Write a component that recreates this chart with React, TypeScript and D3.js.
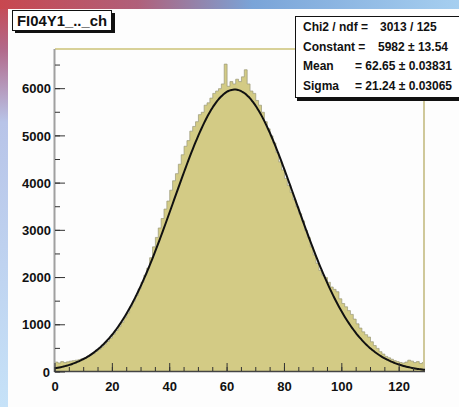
import React from 'react';
import * as d3 from 'd3';

const W = 459;
const H = 407;

const binCounts = [
  210, 190, 220, 200, 215, 230, 240, 250, 260, 280,
  300, 320, 360, 390, 440, 480, 530, 590, 650, 720,
  800, 880, 960, 1050, 1150, 1250, 1380, 1500, 1620, 1760,
  1900, 2050, 2200, 2420, 2650, 2850, 3050, 3250, 3450, 3620,
  3850, 4050, 4200, 4400, 4600, 4780, 4900, 5100, 5200, 5300,
  5450, 5500, 5650, 5700, 5800, 5900, 5950, 6000, 6100, 6520,
  6050, 6150, 6100, 6200, 6150, 6250, 6400, 6100, 5950, 5900,
  5750, 5650, 5500, 5300, 5150, 5000, 4850, 4650, 4450, 4280,
  4100, 3950, 3800, 3650, 3500, 3350, 3200, 3000, 2850, 2650,
  2480, 2300, 2150, 2050, 2000, 1900, 1800, 1750, 1700, 1550,
  1450, 1380, 1300, 1220, 1120, 1020, 930, 850, 790, 740,
  640, 560, 500, 430, 380, 330, 300, 270, 240, 220,
  200, 190, 210, 250, 230, 200, 220, 180, 200,
];

const xTicks = [0, 20, 40, 60, 80, 100, 120];
const xMinorTicks = d3.range(0, 129, 5);
const yTicks = [0, 1000, 2000, 3000, 4000, 5000, 6000];
const yMinorTicks = d3.range(0, 6600, 500);

const fitConstant = 5982;
const fitMean = 62.65;
const fitSigma = 21.24;

const histTitle = 'FI04Y1_.._ch';
const statsLabels = ['Chi2 / ndf =', 'Constant =', 'Mean', 'Sigma'];
const statsValues = ['3013 / 125', '5982 \u00b1 13.54', '= 62.65 \u00b1 0.03831', '= 21.24 \u00b1 0.03065'];

export default function App() {
  const x = d3.scaleLinear().domain([0, binCounts.length]).range([55, 425]);
  const y = d3.scaleLinear().domain([0, 6840]).range([372, 49]);

  const pts: [number, number][] = binCounts.map((v, i) => [i, v]);
  pts.push([binCounts.length, binCounts[binCounts.length - 1]]);

  const area = d3
    .area<[number, number]>()
    .x((d) => x(d[0]))
    .y0(y(0))
    .y1((d) => y(d[1]))
    .curve(d3.curveStepAfter);
  const outline = d3
    .line<[number, number]>()
    .x((d) => x(d[0]))
    .y((d) => y(d[1]))
    .curve(d3.curveStepAfter);

  const fitPts: [number, number][] = d3
    .range(0, binCounts.length + 0.01, 0.5)
    .map((t) => [t, fitConstant * Math.exp(-((t - fitMean) ** 2) / (2 * fitSigma * fitSigma))]);
  const fitLine = d3
    .line<[number, number]>()
    .x((d) => x(d[0]))
    .y((d) => y(d[1]))
    .curve(d3.curveBasis);

  const font = "'Liberation Sans', Arial, sans-serif";
  const statsX = 303;
  const statsValX = [380, 378, 355, 355];
  const statsY = [31, 51, 70, 90];

  return (
    <svg width={W} height={H} style={{ position: 'fixed', left: 0, top: 0 }} fontFamily={font}>
      <defs>
        <linearGradient id="topg" x1="0" y1="0" x2="1" y2="0">
          <stop offset="0" stopColor="#c8474f" />
          <stop offset="0.3" stopColor="#b0607a" />
          <stop offset="0.55" stopColor="#7aa4d8" />
          <stop offset="1" stopColor="#a6cff0" />
        </linearGradient>
        <linearGradient id="leftg" x1="0" y1="0" x2="0" y2="1">
          <stop offset="0" stopColor="#c8474f" />
          <stop offset="0.12" stopColor="#b2698a" />
          <stop offset="0.3" stopColor="#b8c4e8" />
          <stop offset="1" stopColor="#c6e2f8" />
        </linearGradient>
      </defs>
      <rect x={0} y={0} width={W} height={H} fill="url(#leftg)" />
      <rect x={0} y={0} width={W} height={9} fill="url(#topg)" />
      <rect x={8} y={9} width={W - 8} height={H - 9} fill="#fdfdfd" />

      {/* histogram */}
      <path d={area(pts) || ''} fill="#d3cb85" />
      <path d={outline(pts) || ''} fill="none" stroke="#9a9878" strokeWidth={0.7} />

      {/* frame */}
      <line x1={55} x2={425} y1={49} y2={49} stroke="#d8d198" strokeWidth={2} />
      <line x1={424} x2={424} y1={49} y2={372} stroke="#cfc89a" strokeWidth={2} />
      <line x1={54.5} x2={54.5} y1={49} y2={372} stroke="#a0a0a0" strokeWidth={2} />
      <line x1={54} x2={425} y1={371.5} y2={371.5} stroke="#444" strokeWidth={1.5} />

      {/* fit */}
      <path d={fitLine(fitPts) || ''} fill="none" stroke="#111" strokeWidth={2} />

      {/* y ticks */}
      {yMinorTicks.map((v) => (
        <line key={'ym' + v} x1={55} x2={60} y1={y(v)} y2={y(v)} stroke="#333" strokeWidth={1} />
      ))}
      {yTicks.map((v) => (
        <g key={'y' + v}>
          <line x1={55} x2={65} y1={y(v)} y2={y(v)} stroke="#333" strokeWidth={1} />
          <text
            x={v === 0 ? 50 : 51}
            y={y(v)}
            dy="0.36em"
            textAnchor="end"
            fontSize={13}
            fontWeight="bold"
            fill="#111"
          >
            {v}
          </text>
        </g>
      ))}

      {/* x ticks */}
      {xMinorTicks.map((v) => (
        <line key={'xm' + v} x1={x(v)} x2={x(v)} y1={371} y2={367} stroke="#333" strokeWidth={1} />
      ))}
      {xTicks.map((v) => (
        <g key={'x' + v}>
          <line x1={x(v)} x2={x(v)} y1={371} y2={363} stroke="#333" strokeWidth={1} />
          <text x={x(v)} y={391} textAnchor="middle" fontSize={13} fontWeight="bold" fill="#111">
            {v}
          </text>
        </g>
      ))}

      {/* title box */}
      <rect x={15} y={13} width={100} height={20} fill="#111" />
      <rect x={12.5} y={10.5} width={99} height={20} fill="#fff" stroke="#111" strokeWidth={1} />
      <text x={17} y={26} fontSize={14} fontWeight="bold" fill="#111" textLength={90} lengthAdjust="spacingAndGlyphs">
        {histTitle}
      </text>

      {/* stats box */}
      <rect x={297} y={19} width={170} height={82} fill="#111" />
      <rect x={295.5} y={16.5} width={170} height={81} fill="#fff" stroke="#111" strokeWidth={1} />
      {statsLabels.map((lab, i) => (
        <g key={'s' + i}>
          <text x={statsX} y={statsY[i]} fontSize={12} fontWeight="bold" fill="#111">
            {lab}
          </text>
          <text x={statsValX[i]} y={statsY[i]} fontSize={12} fontWeight="bold" fill="#111">
            {statsValues[i]}
          </text>
        </g>
      ))}
    </svg>
  );
}
